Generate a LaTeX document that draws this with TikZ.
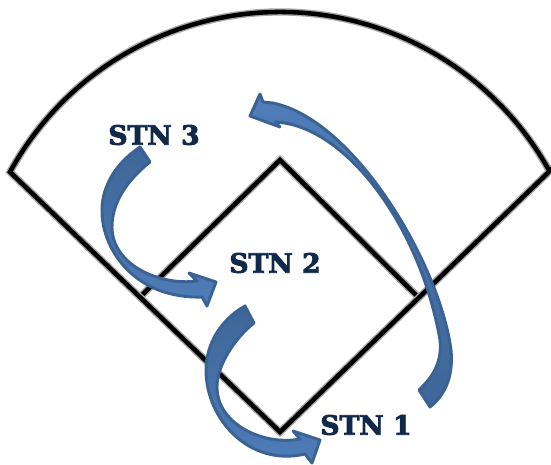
\documentclass[tikz,border=0pt]{standalone}
\usepackage{fontspec}
\setmainfont[BoldFeatures={FakeBold=3}]{DejaVu Serif}
\definecolor{stnnavy}{HTML}{10284A}
\definecolor{arrowedge}{HTML}{3A6294}
\definecolor{arrowtop}{HTML}{3E6698}
\definecolor{arrowlow}{HTML}{4F7DB8}
\tikzset{
  fieldline/.style={line width=3.4pt, black, line join=miter, preaction={draw, black!35, line width=5.5pt}},
  bluearrow/.style={draw=arrowedge, line width=2.2pt, line join=round, top color=arrowtop, bottom color=arrowlow},
  stnlabel/.style={font=\bfseries\fontsize{20}{24}\selectfont, text=stnnavy, inner sep=0pt}
}
\begin{document}
\begin{tikzpicture}[x=0.75pt,y=-0.75pt]
    \useasboundingbox (0,0) rectangle (551,465);
    % Field
    \coordinate (leftfoul) at (10,172);
    \coordinate (home) at (280,432);
    \coordinate (rightfoul) at (556,165);
    \coordinate (first) at (418,297);
    \coordinate (second) at (280,160);
    \coordinate (third) at (140,297);
    \draw[fieldline] (first) -- (second) -- (third);
    \draw[fieldline] (rightfoul) -- (home) -- (leftfoul) arc (-151.3:-28.7:307.8);

    % Arrow from station 3 to station 2
    \draw[bluearrow] (140,147) .. controls (113,165) and (101,190) .. (102,213)
        .. controls (103,250) and (135,299) .. (202,297)
        -- (207,306) -- (216,282) -- (189,273) -- (197,281)
        .. controls (160,286) and (112,265) .. (112,227)
        .. controls (112,200) and (130,178) .. (150,162) -- cycle;

    % Arrow from station 2 to station 1
    \draw[bluearrow] (245,306) .. controls (220,320) and (206,345) .. (206,370)
        .. controls (206,420) and (250,467) .. (305,454)
        -- (312,463) -- (320,440) -- (293,431) -- (300,439)
        .. controls (265,446) and (217,425) .. (217,387)
        .. controls (217,365) and (235,338) .. (254,323) -- cycle;

    % Arrow from station 1 back to the outfield
    \draw[bluearrow, top color=arrowlow, bottom color=arrowtop] (430,407) .. controls (449,392) and (453,370) .. (451,350)
        .. controls (440,265) and (355,120) .. (273,103)
        -- (263,102) -- (260,94) -- (250,116) -- (280,127) -- (275,122)
        .. controls (345,125) and (420,225) .. (440,340)
        .. controls (442,360) and (435,375) .. (419,390) -- cycle;

    % Labels
    \node[stnlabel] (stnthree) at (154,135) {STN 3};
    \node[stnlabel] (stntwo) at (275,263) {STN 2};
    \node[stnlabel] (stnone) at (366,425) {STN 1};
\end{tikzpicture}
\end{document}
